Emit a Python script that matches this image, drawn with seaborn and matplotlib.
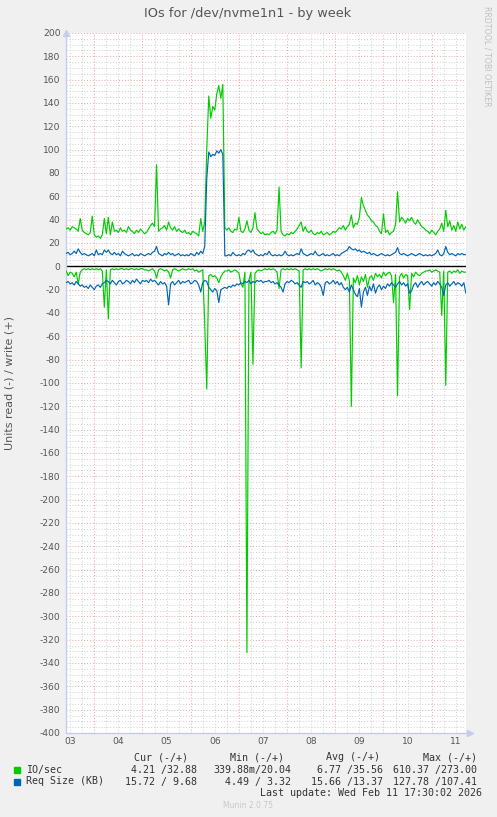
import numpy as np
import pandas as pd
import matplotlib
matplotlib.use('Agg')
import matplotlib.pyplot as plt
import seaborn as sns

# hourly samples, first one at Feb 03 10:00
start = '2026-02-03 10:00'

# IO/sec write (+)
io_write = [32, 33, 31, 34, 33, 32, 30, 41, 31, 29, 28, 27, 29, 43, 27, 25, 26, 24, 27, 41,
            28, 42, 27, 38, 30, 31, 29, 33, 30, 31, 29, 34, 31, 30, 28, 31, 29, 32, 30, 28,
            29, 32, 35, 37, 34, 87, 30, 32, 33, 35, 31, 38, 33, 31, 34, 30, 32, 30, 29, 31,
            28, 29, 27, 30, 29, 28, 26, 41, 30, 38, 100, 146, 127, 137, 134, 148, 155, 144, 156, 33,
            31, 33, 30, 29, 32, 31, 42, 30, 29, 32, 39, 31, 29, 33, 46, 32, 30, 28, 29, 27,
            28, 27, 29, 30, 28, 31, 68, 30, 27, 26, 28, 27, 29, 28, 30, 32, 35, 38, 30, 34,
            30, 29, 31, 28, 27, 29, 28, 30, 27, 28, 29, 27, 28, 30, 29, 31, 33, 32, 35, 31,
            34, 36, 44, 33, 37, 36, 42, 59, 52, 48, 44, 42, 39, 38, 35, 34, 30, 28, 45, 29,
            31, 27, 29, 30, 36, 64, 38, 42, 40, 37, 41, 39, 42, 38, 36, 40, 37, 34, 33, 31,
            30, 28, 31, 29, 27, 30, 32, 37, 30, 48, 34, 39, 31, 35, 30, 38, 32, 36, 31, 34]

# IO/sec read (-)
io_read = [4, 8, 5, 6, 9, 5, 15, 5, 3, 2, 3, 2, 3, 2, 3, 2, 3, 2, 4, 35,
           3, 45, 3, 2, 3, 2, 3, 2, 2, 3, 2, 3, 2, 2, 3, 2, 3, 2, 2, 3,
           3, 4, 3, 2, 4, 10, 3, 2, 3, 4, 3, 5, 10, 3, 2, 3, 4, 3, 2, 3,
           3, 2, 3, 2, 4, 3, 5, 4, 3, 50, 105, 8, 7, 9, 8, 10, 14, 9, 6, 4,
           4, 3, 5, 4, 3, 4, 6, 15, 18, 5, 331, 12, 5, 84, 6, 4, 3, 4, 3, 2,
           3, 2, 3, 2, 3, 5, 19, 3, 2, 3, 2, 3, 2, 3, 2, 3, 4, 87, 3, 2,
           3, 2, 3, 2, 3, 2, 3, 4, 3, 2, 3, 2, 3, 2, 3, 4, 3, 5, 8, 12,
           6, 12, 120, 10, 14, 8, 16, 9, 13, 7, 18, 10, 8, 12, 6, 9, 7, 10, 5, 8,
           6, 5, 8, 31, 7, 111, 9, 6, 10, 7, 8, 37, 6, 9, 5, 7, 8, 6, 5, 4,
           4, 3, 5, 4, 3, 4, 5, 42, 4, 102, 5, 4, 6, 4, 5, 3, 6, 4, 5, 5]

# Req Size (KB) write (+)
rs_write = [11, 12, 10, 11, 13, 11, 15, 12, 10, 11, 10, 9, 10, 11, 9, 14, 10, 11, 10, 14,
            12, 14, 11, 10, 12, 10, 11, 9, 13, 11, 10, 9, 10, 11, 9, 10, 9, 11, 10, 9,
            10, 11, 10, 12, 13, 17, 11, 10, 9, 11, 10, 12, 10, 11, 9, 10, 11, 9, 10, 9,
            10, 9, 11, 10, 9, 12, 10, 13, 11, 17, 75, 98, 94, 96, 95, 99, 97, 100, 96, 9,
            9, 10, 9, 12, 10, 9, 10, 9, 11, 10, 13, 14, 12, 14, 11, 10, 9, 10, 9, 11,
            10, 13, 10, 9, 10, 9, 10, 9, 10, 13, 10, 9, 10, 9, 10, 11, 10, 15, 11, 10,
            9, 10, 11, 10, 13, 10, 9, 10, 11, 9, 10, 9, 10, 11, 9, 10, 9, 11, 12, 13,
            14, 17, 15, 14, 15, 13, 14, 12, 13, 12, 11, 12, 10, 11, 10, 9, 10, 11, 10, 9,
            10, 9, 10, 11, 12, 16, 11, 10, 11, 10, 9, 10, 11, 10, 9, 10, 11, 10, 9, 10,
            9, 10, 9, 10, 11, 14, 10, 9, 11, 17, 12, 10, 11, 10, 9, 11, 10, 11, 10, 10]

# Req Size (KB) read (-)
rs_read = [14, 13, 15, 14, 16, 13, 15, 17, 16, 18, 17, 19, 16, 18, 20, 17, 16, 18, 15, 14,
           12, 13, 15, 12, 14, 16, 13, 12, 15, 14, 12, 13, 15, 12, 14, 11, 13, 15, 12, 13,
           12, 14, 11, 13, 12, 14, 16, 13, 15, 14, 17, 33, 15, 13, 16, 14, 12, 15, 13, 14,
           13, 12, 15, 14, 12, 13, 16, 22, 14, 12, 13, 18, 20, 22, 19, 21, 31, 20, 19, 18,
           19, 17, 18, 16, 17, 15, 16, 14, 15, 13, 14, 12, 15, 13, 14, 12, 13, 12, 14, 13,
           13, 12, 14, 13, 15, 14, 16, 18, 22, 15, 13, 14, 12, 13, 15, 14, 16, 18, 13, 14,
           13, 15, 14, 12, 16, 14, 15, 18, 25, 14, 13, 15, 14, 12, 15, 13, 16, 14, 18, 20,
           18, 22, 16, 20, 24, 26, 19, 35, 22, 18, 25, 17, 21, 15, 23, 18, 16, 20, 17, 19,
           15, 17, 14, 16, 18, 15, 13, 16, 14, 17, 15, 23, 21, 16, 14, 18, 15, 13, 16, 14,
           13, 15, 17, 14, 16, 13, 15, 18, 25, 16, 14, 17, 15, 13, 16, 14, 15, 17, 14, 23]

day_labels = ['03', '04', '05', '06', '07', '08', '09', '10', '11']
legend_names = ['IO/sec', 'Req Size (KB)']
legend_colors = ['#00CC00', '#0066B3']
cur_vals = ['4.21 /32.88', '15.72 / 9.68']
min_vals = ['339.88m/20.04', '4.49 / 3.32']
avg_vals = ['6.77 /35.56', '15.66 /13.37']
max_vals = ['610.37 /273.00', '127.78 /107.41']

times = pd.date_range(start, periods=len(io_write), freq='h')
df = pd.DataFrame({'time': times,
                   'io_write': io_write, 'io_read': -np.array(io_read),
                   'rs_write': rs_write, 'rs_read': -np.array(rs_read)})

sns.set_theme(style='white')
plt.rcParams['font.family'] = ['DejaVu Sans']

W, H = 497, 817
fig = plt.figure(figsize=(W / 100, H / 100), dpi=100, facecolor='#F0F0F0')
ax = fig.add_axes([66 / W, 84 / H, 400 / W, 700 / H])
ax.set_facecolor('white')

t0 = pd.Timestamp('2026-02-03 09:55')
t1 = pd.Timestamp('2026-02-11 17:05')

# grid: grey every 5 units / 6 hours, red every 20 units / midnight
dots = (0, (1, 2))
for v in range(-400, 201, 5):
    if v % 20 == 0:
        continue
    ax.axhline(v, color='#CFCFCF', lw=0.7, ls=dots, zorder=0)
for t in pd.date_range('2026-02-03 12:00', '2026-02-11 18:00', freq='6h'):
    if t.hour != 0:
        ax.axvline(t, color='#CFCFCF', lw=0.7, ls=dots, zorder=0)
for v in range(-400, 201, 20):
    ax.axhline(v, color='#E3A8A8', lw=0.7, ls=dots, zorder=1)
for t in pd.date_range('2026-02-04', '2026-02-11', freq='D'):
    ax.axvline(t, color='#E3A8A8', lw=0.7, ls=dots, zorder=1)

ax.axhline(0, color='black', lw=1.0, zorder=2)

lw = 0.85
sns.lineplot(data=df, x='time', y='io_read', color='#00CC00', lw=lw, ax=ax, zorder=3)
sns.lineplot(data=df, x='time', y='io_write', color='#00CC00', lw=lw, ax=ax, zorder=3)
sns.lineplot(data=df, x='time', y='rs_read', color='#0066B3', lw=lw, ax=ax, zorder=4)
sns.lineplot(data=df, x='time', y='rs_write', color='#0066B3', lw=lw, ax=ax, zorder=4)

ax.set_xlim(t0, t1)
ax.set_ylim(-400, 200)

yt = list(range(-400, 201, 20))
ax.set_yticks(yt)
ax.set_yticklabels([str(v) for v in yt])
noons = pd.date_range('2026-02-03 12:00', periods=len(day_labels), freq='D')
ax.set_xticks(noons)
ax.set_xticklabels(day_labels)
ax.tick_params(axis='both', length=0, labelsize=6.6, colors='#555555')
ax.tick_params(axis='y', pad=4)
ax.tick_params(axis='x', pad=3)
ax.set_xlabel('')
ax.set_ylabel('Units read (-) / write (+)', fontsize=8, color='#555555')
ax.yaxis.set_label_coords(-51 / 400, 0.5)

for s in ['top', 'right']:
    ax.spines[s].set_visible(False)
for s in ['left', 'bottom']:
    ax.spines[s].set_color('#C6CCEE')
    ax.spines[s].set_linewidth(1.0)
ax.plot([0], [1.0], marker='^', ms=4, color='#C6CCEE', transform=ax.transAxes, clip_on=False)
ax.plot([1.01], [0], marker='>', ms=4, color='#C6CCEE', transform=ax.transAxes, clip_on=False)

fig.text(248 / W, 1 - 14 / H, 'IOs for /dev/nvme1n1 - by week', ha='center', va='center',
         fontsize=9.3, color='#555555')
fig.text(487 / W, 1 - 56 / H, 'RRDTOOL / TOBI OETIKER', rotation=270, ha='center', va='center',
         fontsize=5.7, color='#C0C0C0')

# legend block
mono = dict(family='DejaVu Sans Mono', fontsize=7.2, color='#333333', va='center')
headers = ['Cur (-/+)', 'Min (-/+)', 'Avg (-/+)', 'Max (-/+)']
col_right = [188, 284, 380, 477]
for h, xr in zip(headers, col_right):
    fig.text(xr / W, 1 - 757 / H, h, ha='right', **mono)

rows_y = [769.5, 781.5]
for k in range(len(legend_names)):
    y = 1 - rows_y[k] / H
    fig.patches.append(plt.Rectangle((14 / W, y - 3 / H), 6 / W, 6 / H, color=legend_colors[k],
                                     transform=fig.transFigure, figure=fig))
    fig.text(26 / W, y, legend_names[k], ha='left', **mono)
    fig.text(197 / W, y, cur_vals[k], ha='right', **mono)
    fig.text(291 / W, y, min_vals[k], ha='right', **mono)
    fig.text(383 / W, y, avg_vals[k], ha='right', **mono)
    fig.text(477 / W, y, max_vals[k], ha='right', **mono)

fig.text(482 / W, 1 - 793.5 / H, 'Last update: Wed Feb 11 17:30:02 2026', ha='right', **mono)
fig.text(248 / W, 1 - 806 / H, 'Munin 2.0.75', ha='center', va='center', fontsize=5.5, color='#C8C8C8')

fig.savefig('out.png', dpi=100, facecolor=fig.get_facecolor())
